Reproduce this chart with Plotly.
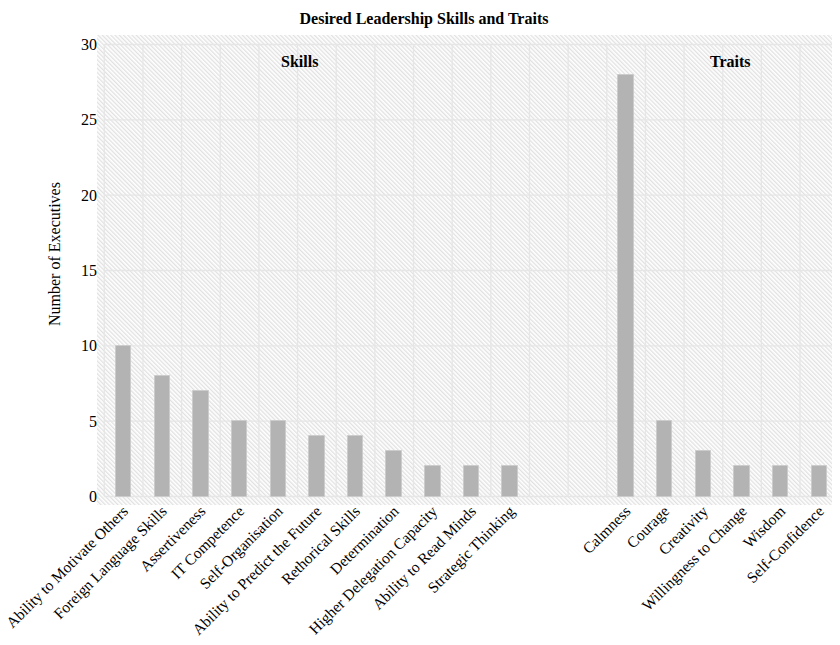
import base64
import plotly.graph_objects as go

# ---- data ----
skill_labels = ["Ability to Motivate Others", "Foreign Language Skills", "Assertiveness",
                "IT Competence", "Self-Organisation", "Ability to Predict the Future",
                "Rethorical Skills", "Determination", "Higher Delegation Capacity",
                "Ability to Read Minds", "Strategic Thinking"]
skill_values = [10, 8, 7, 5, 5, 4, 4, 3, 2, 2, 2]
trait_labels = ["Calmness", "Courage", "Creativity", "Willingness to Change", "Wisdom",
                "Self-Confidence"]
trait_values = [28, 5, 3, 2, 2, 2]
y_ticks = [0, 5, 10, 15, 20, 25, 30]
gap = 2  # empty category slots between the two groups

FONT = "Liberation Serif"
FS = 16
OFF = 8  # page body margin
W, H = 840 - OFF, 645 - OFF
ML, MR, MT = 97 - OFF, 0, 35 - OFF
PW, PH = W - ML - MR, 470
MB = H - MT - PH

skill_x = list(range(len(skill_labels)))
trait_x = [len(skill_labels) + gap + i for i in range(len(trait_labels))]
n_cat = len(skill_labels) + gap + len(trait_labels)

fig = go.Figure()
fig.add_trace(go.Bar(x=skill_x, y=skill_values, width=0.4,
                     marker=dict(color="#b3b3b3", line=dict(color="#cccccc", width=1)),
                     showlegend=False, hoverinfo="skip"))
fig.add_trace(go.Bar(x=trait_x, y=trait_values, width=0.4,
                     marker=dict(color="#b3b3b3", line=dict(color="#cccccc", width=1)),
                     showlegend=False, hoverinfo="skip"))

# hatched panel background
svg = (f'<svg xmlns="http://www.w3.org/2000/svg" width="{PW}" height="{PH}" '
       f'viewBox="0 0 {PW} {PH}" preserveAspectRatio="none">'
       '<defs><pattern id="h" width="3" height="3" patternUnits="userSpaceOnUse" '
       'patternTransform="rotate(-45)"><rect width="3" height="3" fill="#ffffff"/>'
       '<line x1="0.75" y1="0" x2="0.75" y2="3" stroke="#d8d8d8" stroke-width="1"/></pattern></defs>'
       f'<rect width="{PW}" height="{PH}" fill="url(#h)"/></svg>')
src = "data:image/svg+xml;base64," + base64.b64encode(svg.encode()).decode()

shapes = []
grid = dict(color="#e6e6e6", width=1.3)
for v in y_ticks:
    shapes.append(dict(type="line", xref="x", yref="y", x0=-0.5, x1=n_cat - 0.5,
                       y0=v, y1=v, line=grid, layer="below"))
for k in range(n_cat + 1):
    shapes.append(dict(type="line", xref="x", yref="y", x0=k - 0.5, x1=k - 0.5,
                       y0=y_ticks[0], y1=y_ticks[-1], line=grid, layer="below"))

fig.update_layout(
    width=W, height=H,
    margin=dict(l=ML, r=MR, t=MT, b=MB, autoexpand=False),
    paper_bgcolor="white", plot_bgcolor="rgba(0,0,0,0)",
    font=dict(family=FONT, size=FS, color="#000000"),
    title=dict(text="<b>Desired Leadership Skills and Traits</b>", x=(424 - OFF) / W,
               xanchor="center", xref="container", yref="container",
               y=1 - (18 - OFF) / H, yanchor="middle",
               font=dict(family=FONT, size=FS, color="#000000")),
    images=[dict(source=src, xref="paper", yref="paper", x=0, y=1, sizex=1, sizey=1,
                 xanchor="left", yanchor="top", sizing="stretch", layer="below")],
    shapes=shapes,
    bargap=0,
    xaxis=dict(range=[-0.689, n_cat - 0.5 + 0.034], tickmode="array",
               tickvals=skill_x + trait_x, ticktext=skill_labels + trait_labels,
               tickangle=-45, showgrid=False, zeroline=False, showline=False, ticks="",
               automargin=False, ticklabeloverflow="allow", ticklabelstandoff=-7,
               tickfont=dict(family=FONT, size=15.5, color="#000000")),
    yaxis=dict(range=[-0.564, 30.63], tickmode="array", tickvals=y_ticks,
               showgrid=False, zeroline=False, showline=False, ticks="",
               automargin=False, ticklabelstandoff=-1,
               tickfont=dict(family=FONT, size=FS, color="#000000")),
    annotations=[
        dict(text="<b>Skills</b>", x=4.54, y=28.9, xref="x", yref="y", showarrow=False,
             font=dict(family=FONT, size=FS, color="#000000")),
        dict(text="<b>Traits</b>", x=15.69, y=28.9, xref="x", yref="y", showarrow=False,
             font=dict(family=FONT, size=FS, color="#000000")),
        dict(text="Number of Executives", x=(55 - 97) / PW, y=1 - (254 - 35) / PH,
             xref="paper", yref="paper",
             textangle=-90, showarrow=False, xanchor="center", yanchor="middle",
             font=dict(family=FONT, size=FS, color="#000000")),
    ],
)

fig.write_html("out.html")
